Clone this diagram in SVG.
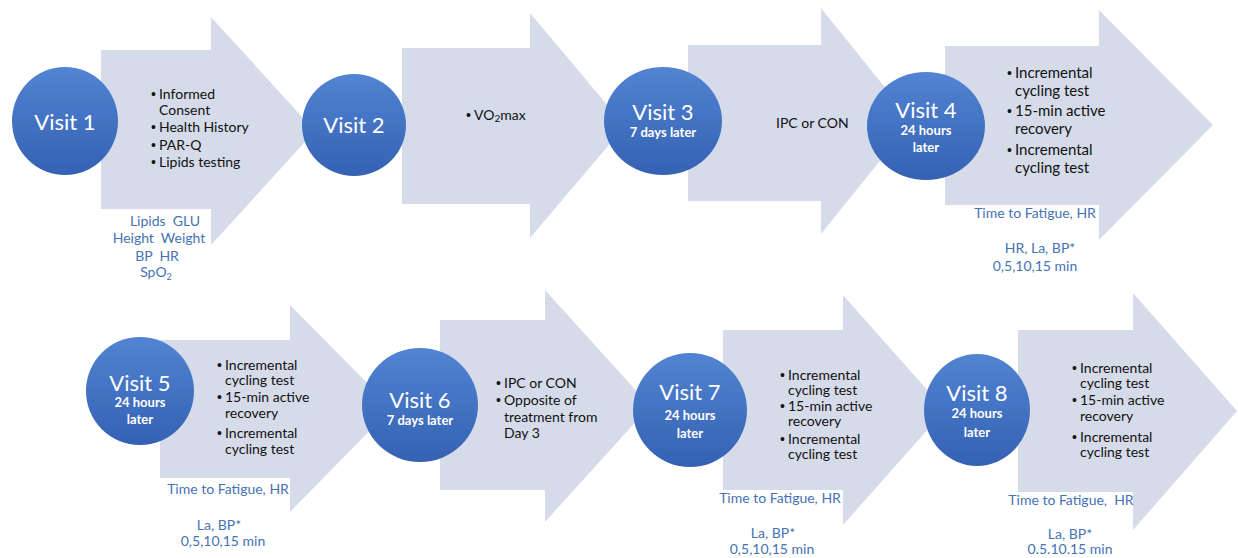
<svg xmlns="http://www.w3.org/2000/svg" width="1238" height="558" viewBox="0 0 1238 558">
<defs>
<linearGradient id="cg" x1="0" y1="0" x2="0" y2="1">
<stop offset="0" stop-color="#5184d3"/>
<stop offset="1" stop-color="#3561b3"/>
</linearGradient>
<style>
.arr{fill:#d6dbea}
.circ{fill:url(#cg)}
.vt{font-family:Lato,"Liberation Sans",sans-serif;font-size:22px;fill:#fff;text-anchor:middle}
.vs{font-family:Lato,"Liberation Sans",sans-serif;font-size:13px;font-weight:bold;fill:#fff;text-anchor:middle}
.bt{font-family:Lato,"Liberation Sans",sans-serif;font-size:14px;fill:#111}
.bt2{font-family:Lato,"Liberation Sans",sans-serif;font-size:15px;fill:#111}
.bu{font-family:"Liberation Sans",sans-serif;font-size:14px;fill:#111}
.bl{font-family:Lato,"Liberation Sans",sans-serif;font-size:14px;fill:#4672b4;text-anchor:middle;white-space:pre}
</style>
</defs>
<rect width="1238" height="558" fill="#fff"/>
<g id="connectors">
<polygon class="arr" points="101,50 211,50 211,17 315,131 211,245 211,209 101,209"/>
<polygon class="arr" points="402,48 530,48 530,13 625,126 530,238 530,204 402,204"/>
<polygon class="arr" points="688,45 821,45 821,8 912,121 821,234 821,201 688,201"/>
<polygon class="arr" points="945,46 1099,46 1099,10 1213,125 1099,240 1099,205 945,205"/>
<polygon class="arr" points="160,340 290,340 290,305 392,408 290,512 290,478 160,478"/>
<polygon class="arr" points="440,320 545,320 545,290 650,406 545,522 545,490 440,490"/>
<polygon class="arr" points="723,330 843,330 843,295 945,410 843,525 843,490 723,490"/>
<polygon class="arr" points="1018,330 1133,330 1133,293 1237,411 1133,530 1133,492 1018,492"/>
</g>
<g id="step-1">
<text class="bu" x="151" y="99">•</text><text class="bt" x="159" y="99">Informed</text>
<text class="bt" x="159" y="115">Consent</text>
<text class="bu" x="151" y="132">•</text><text class="bt" x="159" y="132">Health History</text>
<text class="bu" x="151" y="150">•</text><text class="bt" x="159" y="150">PAR-Q</text>
<text class="bu" x="151" y="167">•</text><text class="bt" x="159" y="167">Lipids testing</text>
<text class="bl" x="165" y="226">Lipids  GLU</text>
<text class="bl" x="159" y="243">Height  Weight</text>
<text class="bl" x="157" y="261">BP  HR</text>
<text class="bl" x="156" y="277">SpO<tspan font-size="9" dy="3">2</tspan></text>
</g>
<g id="step-2">
<text class="bu" x="466" y="120">•</text><text class="bt" x="474" y="120">VO<tspan font-size="10" dy="2">2</tspan><tspan dy="-2">max</tspan></text>
</g>
<g id="step-3">
<text class="bt" x="776" y="128">IPC or CON</text>
</g>
<g id="step-4">
<text class="bu" x="1007" y="78">•</text><text class="bt2" x="1015" y="78">Incremental</text>
<text class="bt2" x="1015" y="96">cycling test</text>
<text class="bu" x="1007" y="116">•</text><text class="bt2" x="1015" y="116">15-min active</text>
<text class="bt2" x="1015" y="134">recovery</text>
<text class="bu" x="1007" y="155">•</text><text class="bt2" x="1015" y="155">Incremental</text>
<text class="bt2" x="1015" y="173">cycling test</text>
<text class="bl" x="1035" y="218">Time to Fatigue, HR</text>
<text class="bl" x="1040" y="253">HR, La, BP*</text>
<text class="bl" x="1035" y="271">0,5,10,15 min</text>
</g>
<g id="step-5">
<text class="bu" x="217" y="370">•</text><text class="bt" x="225" y="370">Incremental</text>
<text class="bt" x="225" y="385">cycling test</text>
<text class="bu" x="217" y="402">•</text><text class="bt" x="225" y="402">15-min active</text>
<text class="bt" x="225" y="418">recovery</text>
<text class="bu" x="217" y="438">•</text><text class="bt" x="225" y="438">Incremental</text>
<text class="bt" x="225" y="454">cycling test</text>
<text class="bl" x="228" y="494">Time to Fatigue, HR</text>
<text class="bl" x="219" y="530">La, BP*</text>
<text class="bl" x="223" y="546">0,5,10,15 min</text>
</g>
<g id="step-6">
<text class="bu" x="496" y="388">•</text><text class="bt" x="504" y="388">IPC or CON</text>
<text class="bu" x="496" y="405">•</text><text class="bt" x="504" y="405">Opposite of</text>
<text class="bt" x="504" y="422">treatment from</text>
<text class="bt" x="504" y="438">Day 3</text>
</g>
<g id="step-7">
<text class="bu" x="780" y="380">•</text><text class="bt" x="788" y="380">Incremental</text>
<text class="bt" x="788" y="395">cycling test</text>
<text class="bu" x="780" y="411">•</text><text class="bt" x="788" y="411">15-min active</text>
<text class="bt" x="788" y="426">recovery</text>
<text class="bu" x="780" y="444">•</text><text class="bt" x="788" y="444">Incremental</text>
<text class="bt" x="788" y="459">cycling test</text>
<text class="bl" x="780" y="503">Time to Fatigue, HR</text>
<text class="bl" x="773" y="538">La, BP*</text>
<text class="bl" x="772" y="554">0,5,10,15 min</text>
</g>
<g id="step-8">
<text class="bu" x="1072" y="373">•</text><text class="bt" x="1080" y="373">Incremental</text>
<text class="bt" x="1080" y="388">cycling test</text>
<text class="bu" x="1072" y="405">•</text><text class="bt" x="1080" y="405">15-min active</text>
<text class="bt" x="1080" y="421">recovery</text>
<text class="bu" x="1072" y="442">•</text><text class="bt" x="1080" y="442">Incremental</text>
<text class="bt" x="1080" y="457">cycling test</text>
<text class="bl" x="1071" y="505">Time to Fatigue,  HR</text>
<text class="bl" x="1070" y="539">La, BP*</text>
<text class="bl" x="1070" y="554">0.5.10.15 min</text>
</g>
<g id="visit-1">
<ellipse class="circ" cx="65" cy="121" rx="53" ry="54"/>
<text class="vt" x="65" y="130">Visit 1</text>
</g>
<g id="visit-2">
<ellipse class="circ" cx="354" cy="125" rx="52" ry="51"/>
<text class="vt" x="354" y="133">Visit 2</text>
</g>
<g id="visit-3">
<ellipse class="circ" cx="663" cy="121" rx="59" ry="54"/>
<text class="vt" x="663" y="120">Visit 3</text>
<text class="vs" x="663" y="137">7 days later</text>
</g>
<g id="visit-4">
<ellipse class="circ" cx="926" cy="126" rx="59" ry="54"/>
<text class="vt" x="926" y="118">Visit 4</text>
<text class="vs" x="926" y="135">24 hours</text>
<text class="vs" x="926" y="152">later</text>
</g>
<g id="visit-5">
<ellipse class="circ" cx="140" cy="391" rx="54" ry="54"/>
<text class="vt" x="140" y="391">Visit 5</text>
<text class="vs" x="140" y="407">24 hours</text>
<text class="vs" x="140" y="424">later</text>
</g>
<g id="visit-6">
<ellipse class="circ" cx="420" cy="405" rx="58" ry="57"/>
<text class="vt" x="420" y="408">Visit 6</text>
<text class="vs" x="420" y="425">7 days later</text>
</g>
<g id="visit-7">
<ellipse class="circ" cx="690" cy="410" rx="57" ry="57"/>
<text class="vt" x="690" y="400">Visit 7</text>
<text class="vs" x="690" y="420">24 hours</text>
<text class="vs" x="690" y="438">later</text>
</g>
<g id="visit-8">
<ellipse class="circ" cx="977" cy="410" rx="53" ry="56"/>
<text class="vt" x="977" y="401">Visit 8</text>
<text class="vs" x="977" y="418">24 hours</text>
<text class="vs" x="977" y="437">later</text>
</g>
</svg>
